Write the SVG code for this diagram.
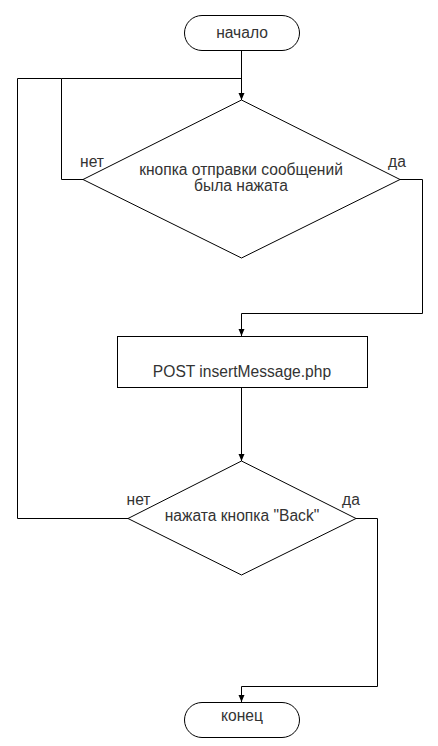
<svg xmlns="http://www.w3.org/2000/svg" width="438" height="746" viewBox="0 0 438 746">
<defs>
<marker id="arr" markerWidth="8" markerHeight="8" refX="7" refY="4" orient="auto" markerUnits="userSpaceOnUse">
<path d="M0,1 L7,4 L0,7 Z" fill="#000"/>
</marker>
<style>
.shape{fill:#fff;stroke:#000;stroke-width:1}
.edge{fill:none;stroke:#000;stroke-width:1}
text{font-family:"Liberation Sans",Arial,sans-serif;font-size:15.6px;fill:#333;text-anchor:middle}
</style>
</defs>
<rect width="438" height="746" fill="#fff"/>
<g id="connectors">
<path class="edge" d="M241.5,50 V100" marker-end="url(#arr)"/>
<path class="edge" d="M83,179.5 H61.5 V78.5 H241.5"/>
<path class="edge" d="M128,518.5 H17.5 V78.5 H61.5"/>
<path class="edge" d="M400,179.5 H422.5 V313.5 H241.5 V336" marker-end="url(#arr)"/>
<path class="edge" d="M241.5,387 V461" marker-end="url(#arr)"/>
<path class="edge" d="M356,518.5 H377.5 V686.5 H241.5 V702" marker-end="url(#arr)"/>
</g>
<g id="start">
<rect class="shape" x="184.5" y="15.5" width="115" height="35" rx="17.5"/>
<text x="242" y="38">начало</text>
</g>
<g id="decision1">
<polygon class="shape" points="241.5,100 400,179.5 241.5,258 83,179.5"/>
<text x="241" y="175">кнопка отправки сообщений</text>
<text x="241" y="191">была нажата</text>
<text x="92" y="167">нет</text>
<text x="397" y="167">да</text>
</g>
<g id="process">
<rect class="shape" x="117.5" y="336.5" width="250" height="51"/>
<text x="242" y="377">POST insertMessage.php</text>
</g>
<g id="decision2">
<polygon class="shape" points="241.5,461 356,518.5 241.5,575 128,518.5"/>
<text x="242" y="521">нажата кнопка "Back"</text>
<text x="138.5" y="505">нет</text>
<text x="351" y="505">да</text>
</g>
<g id="end">
<rect class="shape" x="184.5" y="702.5" width="115" height="35" rx="17.5"/>
<text x="242" y="721">конец</text>
</g>
</svg>
